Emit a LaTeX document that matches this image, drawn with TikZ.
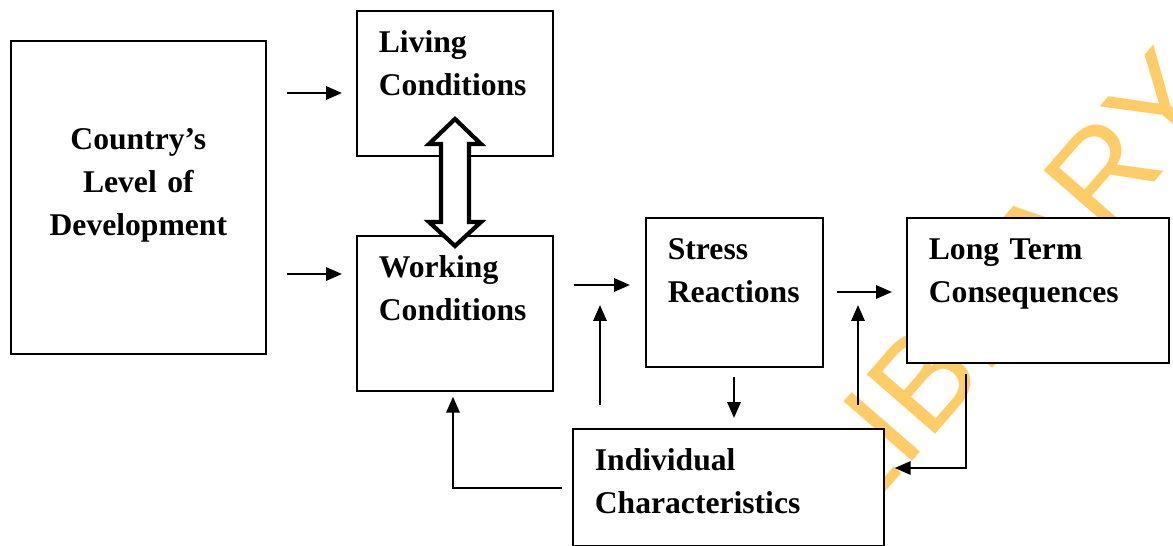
\documentclass[tikz,border=0pt]{standalone}
\usepackage{fontspec}
\setmainfont{Liberation Serif}
\newfontfamily\wmfont{Liberation Sans}
\usepackage{xcolor}
\usepackage{tikz}
\usetikzlibrary{arrows.meta}
\definecolor{wmyellow}{RGB}{255,204,102}
\hfuzz=3pt

\begin{document}
\begin{tikzpicture}[x=0.02cm,y=-0.02cm,
		box/.style={draw, line width=1pt, fill=white, anchor=north west, align=left,
			inner ysep=0pt, inner xsep=0.44cm, text height=0.84cm,
			font=\bfseries\fontsize{18}{24.4}\selectfont},
		arr/.style={-{Triangle[length=9pt,width=7.5pt]}, line width=1.3pt},
		hollow/.style={draw, line width=2.4pt, fill=white, line join=miter},
		wm/.style={text=wmyellow, inner sep=0pt, font=\wmfont\fontsize{75}{75}\selectfont}]
		\useasboundingbox (0,0) rectangle (1173,546);
		
		\node[wm, rotate=49] (wmark) at (1006,284) {LIBRARY};
		
		\node[box, align=center, inner xsep=0pt, text width=5.1cm, text height=2.18cm, text depth=4.08cm] (country) at (10,40) {Country’s\\Level of\\Development};
		\node[box, text width=3.04cm, text depth=2.06cm] (living) at (356,10) {Living\\Conditions};
		\node[box, text width=3.04cm, text depth=2.26cm] (working) at (356,235) {Working\\Conditions};
		\node[box, text width=2.66cm, text depth=2.14cm] (stress) at (645,217) {Stress\\Reactions};
		\node[box, text width=4.36cm, text depth=2.06cm] (longterm) at (906,217) {Long Term\\Consequences};
		\node[box, text width=5.34cm, text depth=1.5cm] (indiv) at (572,428) {Individual\\Characteristics};
		
		\draw[hollow] (455,119) -- (481,144) -- (469,144) -- (469,222) -- (481,222) -- (455,246)
			-- (429,222) -- (441,222) -- (441,144) -- (429,144) -- cycle;
		
		\coordinate (up1) at (600,305);
		\coordinate (up2) at (858,305);
		
		\draw[arr, shorten <=0.4cm, shorten >=0.28cm] (country.east |- 0,93) -- (living.west |- 0,93);
		\draw[arr, shorten <=0.4cm, shorten >=0.28cm] (country.east |- 0,274) -- (working.west |- 0,274);
		\draw[arr, shorten <=0.4cm, shorten >=0.3cm] (working.east |- 0,285) -- (stress.west |- 0,285);
		\draw[arr, shorten <=0.26cm, shorten >=0.28cm] (stress.east |- 0,292) -- (longterm.west |- 0,292);
		\draw[arr, shorten <=0.18cm, shorten >=0.2cm] (stress.south -| 734,0) -- (indiv.north -| 734,0);
		\draw[arr, shorten <=0.46cm] (indiv.north -| up1) -- (up1);
		\draw[arr, shorten <=0.46cm] (indiv.north -| up2) -- (up2);
		\draw[arr, shorten <=0.2cm, shorten >=0.2cm] (longterm.south -| 966,0) |- (indiv.east |- 0,468);
		\draw[arr, shorten <=0.2cm, shorten >=0.1cm] (indiv.west |- 0,488) -| (working.south -| 453,0);
	\end{tikzpicture}
\end{document}
